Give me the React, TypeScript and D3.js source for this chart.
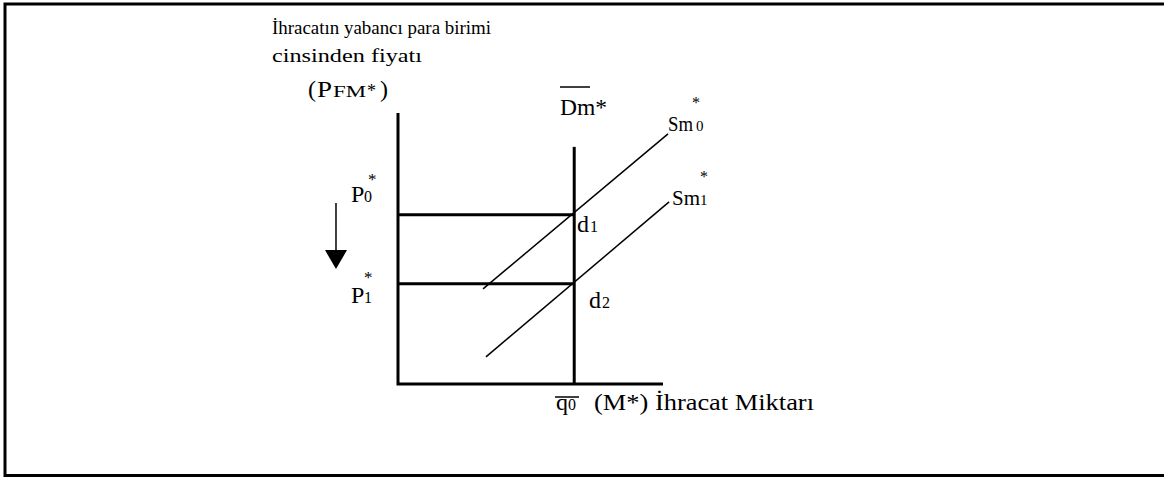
import React from "react";
import * as d3 from "d3";

// ---- data (economic units, 0..100 scale) ----
const axisMax = [100, 100]; // [quantity, price]
const q0 = [66.5];
const priceLevels = [62.5, 37]; // P0*, P1*
const dmTop = [87.5];
const sm0 = [[32.1, 35.1], [101.9, 92.3]];
const sm1 = [[33.2, 10], [102.3, 67.2]];
const arrowPts = [[-23.4, 66.8], [-23.4, 42.4]];
const titleLines = ["İhracatın yabancı para birimi", "cinsinden fiyatı"];
const xLabel = ["(M*) İhracat Miktarı"];

const W = 1164;
const H = 477;
const FONT = "'Liberation Serif', 'Times New Roman', serif";

export default function App() {
  const x = d3.scaleLinear().domain([0, axisMax[0]]).range([398, 663]);
  const y = d3.scaleLinear().domain([0, axisMax[1]]).range([384, 113]);
  const line = d3.line<number[]>().x((d) => x(d[0])).y((d) => y(d[1]));

  const arrowX = x(arrowPts[0][0]);
  const tipY = y(arrowPts[1][1]);
  const headH = 19;
  const headW = 11;
  const SG = "spacingAndGlyphs";

  return (
    <svg
      width={W}
      height={H}
      style={{ position: "absolute", left: 0, top: 0, display: "block", background: "#fff" }}
      fontFamily={FONT}
    >
      {/* frame */}
      <path d={`M5,${H} L5,4 L${W},4`} fill="none" stroke="#000" strokeWidth={3} />
      <line x1={4} x2={W} y1={475.5} y2={475.5} stroke="#000" strokeWidth={3} />

      {/* axes */}
      <path
        d={`M${x(0)},${y(axisMax[1])} L${x(0)},${y(0)} L${x(axisMax[0])},${y(0)}`}
        fill="none"
        stroke="#000"
        strokeWidth={3}
      />
      {/* demand (vertical) */}
      <line x1={x(q0[0])} x2={x(q0[0])} y1={y(dmTop[0])} y2={y(0)} stroke="#000" strokeWidth={3} />
      {/* price levels */}
      {priceLevels.map((p, i) => (
        <line key={i} x1={x(0)} x2={x(q0[0])} y1={y(p)} y2={y(p)} stroke="#000" strokeWidth={3} />
      ))}
      {/* supply curves */}
      <path d={line(sm0) || ""} fill="none" stroke="#000" strokeWidth={1.5} />
      <path d={line(sm1) || ""} fill="none" stroke="#000" strokeWidth={1.5} />

      {/* arrow */}
      <line x1={arrowX} x2={arrowX} y1={y(arrowPts[0][1])} y2={tipY - headH + 1} stroke="#000" strokeWidth={1.5} />
      <path
        d={`M${arrowX - headW},${tipY - headH} L${arrowX + headW},${tipY - headH} L${arrowX},${tipY} Z`}
        fill="#000"
      />

      {/* title */}
      <text x={272} y={34} fontSize={19} textLength={219} lengthAdjust={SG}>{titleLines[0]}</text>
      <text x={272} y={62} fontSize={19} textLength={150} lengthAdjust={SG}>{titleLines[1]}</text>
      <text x={308} y={97} fontSize={24}>(</text>
      <text x={317} y={97} fontSize={24} textLength={15} lengthAdjust={SG}>P</text>
      <text x={333} y={97} fontSize={16} textLength={33} lengthAdjust={SG}>FM</text>
      <text x={367} y={97} fontSize={18}>*</text>
      <text x={380} y={97} fontSize={24}>)</text>

      {/* Dm* */}
      <text x={560} y={115} fontSize={24} textLength={47} lengthAdjust={SG}>Dm*</text>
      <line x1={560} x2={590} y1={87} y2={87} stroke="#000" strokeWidth={1.5} />

      {/* Sm labels */}
      <text x={668} y={131} fontSize={22} textLength={25} lengthAdjust={SG}>Sm</text>
      <text x={696} y={131} fontSize={15}>0</text>
      <text x={692} y={108} fontSize={16}>*</text>
      <text x={672} y={205} fontSize={22} textLength={28} lengthAdjust={SG}>Sm</text>
      <text x={700} y={205} fontSize={15}>1</text>
      <text x={700} y={182} fontSize={16}>*</text>

      {/* P labels */}
      <text x={351} y={202} fontSize={24}>P</text>
      <text x={364} y={202} fontSize={16}>0</text>
      <text x={368} y={185} fontSize={17}>*</text>
      <text x={351} y={303} fontSize={24}>P</text>
      <text x={364} y={303} fontSize={16}>1</text>
      <text x={364} y={283} fontSize={17}>*</text>

      {/* d labels */}
      <text x={577} y={232} fontSize={24}>d</text>
      <text x={590} y={232} fontSize={16}>1</text>
      <text x={589} y={308} fontSize={24}>d</text>
      <text x={602} y={308} fontSize={16}>2</text>

      {/* q0 with bar */}
      <text x={556} y={410} fontSize={24}>q</text>
      <text x={568} y={410} fontSize={16}>0</text>
      <line x1={555} x2={579} y1={397} y2={397} stroke="#000" strokeWidth={1.5} />

      {/* x-axis label */}
      <text x={594} y={410} fontSize={23} textLength={220} lengthAdjust={SG}>{xLabel[0]}</text>
    </svg>
  );
}
